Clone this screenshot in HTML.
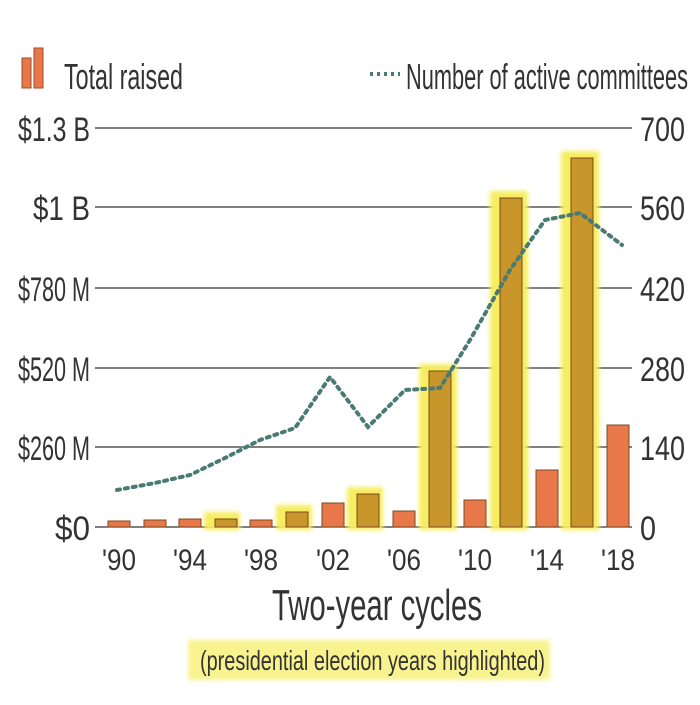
<!DOCTYPE html>
<html><head><meta charset="utf-8"><style>
body{margin:0;background:#fff;}
svg text{font-family:"Liberation Sans",sans-serif;fill:#333;}
</style></head><body>
<svg width="700" height="700" viewBox="0 0 700 700">
<defs><filter id="glow"><feGaussianBlur stdDeviation="2"/></filter></defs>
<rect x="22" y="58" width="9" height="30" fill="#e8784a" stroke="#a04a2a"/>
<rect x="34" y="48" width="9" height="40" fill="#e8784a" stroke="#a04a2a"/>
<text x="64" y="89" font-size="36" textLength="119" lengthAdjust="spacingAndGlyphs">Total raised</text>
<line x1="370" y1="74" x2="400" y2="74" stroke="#4a7a74" stroke-width="4" stroke-dasharray="3,4"/>
<text x="406" y="89" font-size="36" textLength="282" lengthAdjust="spacingAndGlyphs">Number of active committees</text>
<g stroke="#333" stroke-width="1.2">
<line x1="95" y1="128" x2="632" y2="128"/>
<line x1="95" y1="207" x2="632" y2="207"/>
<line x1="95" y1="288" x2="632" y2="288"/>
<line x1="95" y1="368" x2="632" y2="368"/>
<line x1="95" y1="447" x2="632" y2="447"/>
<line x1="95" y1="527" x2="632" y2="527"/>
</g>
<g font-size="34">
<text x="18" y="141" textLength="72" lengthAdjust="spacingAndGlyphs">$1.3 B</text>
<text x="33" y="220" textLength="57" lengthAdjust="spacingAndGlyphs">$1 B</text>
<text x="18" y="301" textLength="72" lengthAdjust="spacingAndGlyphs">$780 M</text>
<text x="18" y="381" textLength="72" lengthAdjust="spacingAndGlyphs">$520 M</text>
<text x="18" y="460" textLength="72" lengthAdjust="spacingAndGlyphs">$260 M</text>
<text x="55" y="540" textLength="35" lengthAdjust="spacingAndGlyphs">$0</text>
</g>
<g font-size="34">
<text x="640" y="141" textLength="45" lengthAdjust="spacingAndGlyphs">700</text>
<text x="640" y="220" textLength="45" lengthAdjust="spacingAndGlyphs">560</text>
<text x="640" y="301" textLength="45" lengthAdjust="spacingAndGlyphs">420</text>
<text x="640" y="381" textLength="45" lengthAdjust="spacingAndGlyphs">280</text>
<text x="640" y="460" textLength="45" lengthAdjust="spacingAndGlyphs">140</text>
<text x="640" y="540" textLength="16" lengthAdjust="spacingAndGlyphs">0</text>
</g>
<g fill="#f6ee60" filter="url(#glow)">
<rect x="204" y="512" width="36" height="18"/>
<rect x="276" y="505" width="36" height="25"/>
<rect x="347" y="487" width="36" height="43"/>
<rect x="419" y="364" width="38" height="166"/>
<rect x="490" y="191" width="38" height="339"/>
<rect x="561" y="151" width="38" height="379"/>
</g>
<g stroke="#7a4a20" stroke-width="1">
<rect x="108" y="521" width="22" height="6" fill="#e8784a"/>
<rect x="144" y="520" width="22" height="7" fill="#e8784a"/>
<rect x="179" y="519" width="22" height="8" fill="#e8784a"/>
<rect x="215" y="519" width="22" height="8" fill="#c8962a"/>
<rect x="250" y="520" width="22" height="7" fill="#e8784a"/>
<rect x="286" y="512" width="22" height="15" fill="#c8962a"/>
<rect x="322" y="503" width="22" height="24" fill="#e8784a"/>
<rect x="357" y="494" width="22" height="33" fill="#c8962a"/>
<rect x="393" y="511" width="22" height="16" fill="#e8784a"/>
<rect x="429" y="371" width="22" height="156" fill="#c8962a"/>
<rect x="464" y="500" width="22" height="27" fill="#e8784a"/>
<rect x="500" y="198" width="22" height="329" fill="#c8962a"/>
<rect x="536" y="470" width="22" height="57" fill="#e8784a"/>
<rect x="571" y="158" width="22" height="369" fill="#c8962a"/>
<rect x="607" y="425" width="22" height="102" fill="#e8784a"/>
</g>
<polyline fill="none" stroke="#4a7a74" stroke-width="4" stroke-dasharray="3,5" stroke-linecap="round"
points="117,490 155,483 190,475 225,458 260,440 295,428 330,377 368,427 405,390 440,388 470,340 510,270 545,220 580,213 622,245"/>
<g font-size="30">
<text x="102" y="570" textLength="34" lengthAdjust="spacingAndGlyphs">'90</text>
<text x="173" y="570" textLength="34" lengthAdjust="spacingAndGlyphs">'94</text>
<text x="244" y="570" textLength="34" lengthAdjust="spacingAndGlyphs">'98</text>
<text x="316" y="570" textLength="34" lengthAdjust="spacingAndGlyphs">'02</text>
<text x="387" y="570" textLength="34" lengthAdjust="spacingAndGlyphs">'06</text>
<text x="458" y="570" textLength="34" lengthAdjust="spacingAndGlyphs">'10</text>
<text x="530" y="570" textLength="34" lengthAdjust="spacingAndGlyphs">'14</text>
<text x="601" y="570" textLength="34" lengthAdjust="spacingAndGlyphs">'18</text>
</g>
<text x="272" y="620" font-size="44" textLength="210" lengthAdjust="spacingAndGlyphs">Two-year cycles</text>
<rect x="188" y="640" width="362" height="40" fill="#f6ee60" opacity="0.7" filter="url(#glow)"/>
<text x="200" y="670" font-size="28" textLength="345" lengthAdjust="spacingAndGlyphs">(presidential election years highlighted)</text>
</svg>
</body></html>
